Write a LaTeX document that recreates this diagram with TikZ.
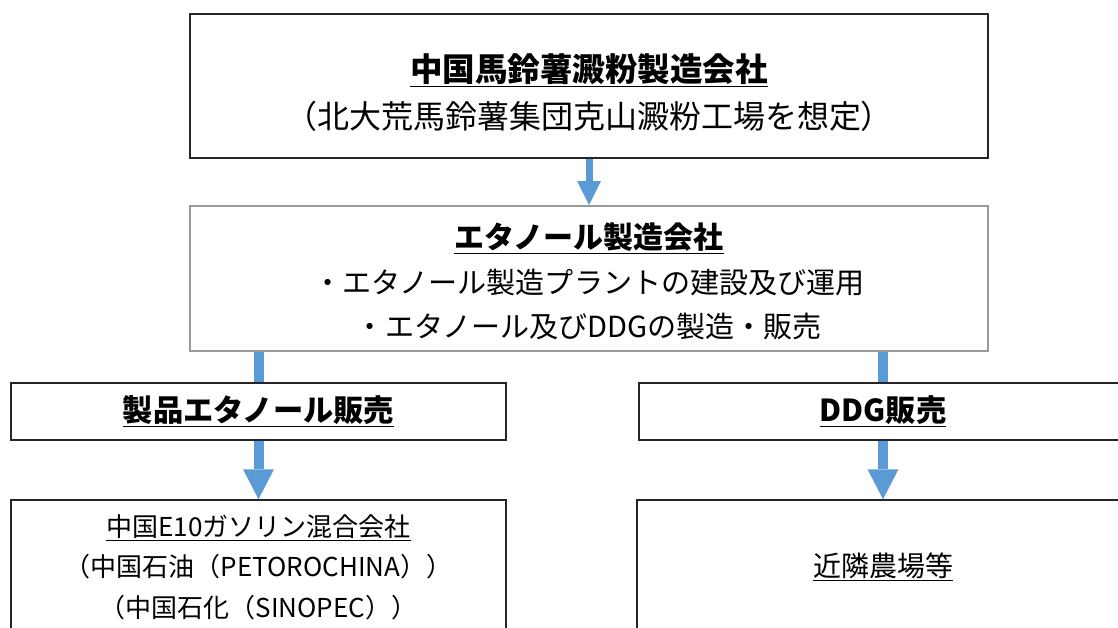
\documentclass[tikz,border=0pt]{standalone}
\usepackage{fontspec}
\setmainfont{Noto Sans CJK JP}
\usetikzlibrary{arrows.meta, calc}
\definecolor{flowblue}{HTML}{5B9BD5}

\begin{document}
\begin{tikzpicture}[x=0.75pt, y=-0.75pt,
    % Define the style for the boxes
    box/.style={draw=black!85, line width=1.1pt, rectangle, align=center, inner sep=0pt},
    greybox/.style={box, draw=black!40, line width=1.5pt},
    % Define the styles for the blue arrows
    flow/.style={draw=flowblue, line width=5.25pt,
        -{Triangle[width=18pt, length=18pt, line width=0pt]}},
    bigflow/.style={draw=flowblue, line width=7.5pt,
        -{Triangle[width=23.25pt, length=22.5pt, line width=0pt]}},
    link/.style={draw=flowblue, line width=7.5pt}
]

% Fix the page size
\path[clip] (0,0) rectangle (1118,628);

% Company boxes
\node[box, minimum width=598.5pt, minimum height=108pt,
      font=\fontsize{24pt}{35.5pt}\selectfont] (starch) at (589,86)
    {\rule{0pt}{31pt}{\bfseries\fontsize{24.4pt}{35.5pt}\selectfont\underline{中国馬鈴薯澱粉製造会社}}\\
     （北大荒馬鈴薯集団克山澱粉工場を想定）};
\node[greybox, minimum width=598.5pt, minimum height=108.75pt,
      font=\fontsize{21.8pt}{33.5pt}\selectfont] (ethanol) at (589,278.5)
    {\rule{0pt}{24pt}{\bfseries\fontsize{22.5pt}{33.5pt}\selectfont\underline{エタノール製造会社}}\\
     ・エタノール製造プラントの建設及び運用\\
     ・エタノール及びDDGの製造・販売};

% Sales boxes
\node[box, minimum width=371.25pt, minimum height=42.75pt,
      font=\bfseries\fontsize{22.7pt}{30pt}\selectfont] (salesE) at (258.5,411.5)
    {\underline{製品エタノール販売}};
\node[box, minimum width=366pt, minimum height=42.75pt,
      font=\bfseries\fontsize{22.7pt}{30pt}\selectfont] (salesD) at (883,411.5)
    {\underline{DDG販売}};

% Customer boxes
\node[box, minimum width=371.25pt, minimum height=100.5pt,
      font=\fontsize{19.5pt}{30.5pt}\selectfont] (mixer) at (258.5,567)
    {\underline{中国E10ガソリン混合会社}\\
     （中国石油（PETOROCHINA））\\
     （中国石化（SINOPEC））};
\node[box, minimum width=369pt, minimum height=100.5pt,
      font=\fontsize{21pt}{30pt}\selectfont] (farm) at (883,567)
    {\underline{近隣農場等}};

% Draw the arrows
\draw[flow] (starch.south) -- (ethanol.north);
\draw[link] (salesE.north |- ethanol.south) -- (salesE.north);
\draw[link] (salesD.north |- ethanol.south) -- (salesD.north);
\draw[bigflow] (salesE.south) -- (mixer.north);
\draw[bigflow] (salesD.south) -- (farm.north);

\end{tikzpicture}
\end{document}
